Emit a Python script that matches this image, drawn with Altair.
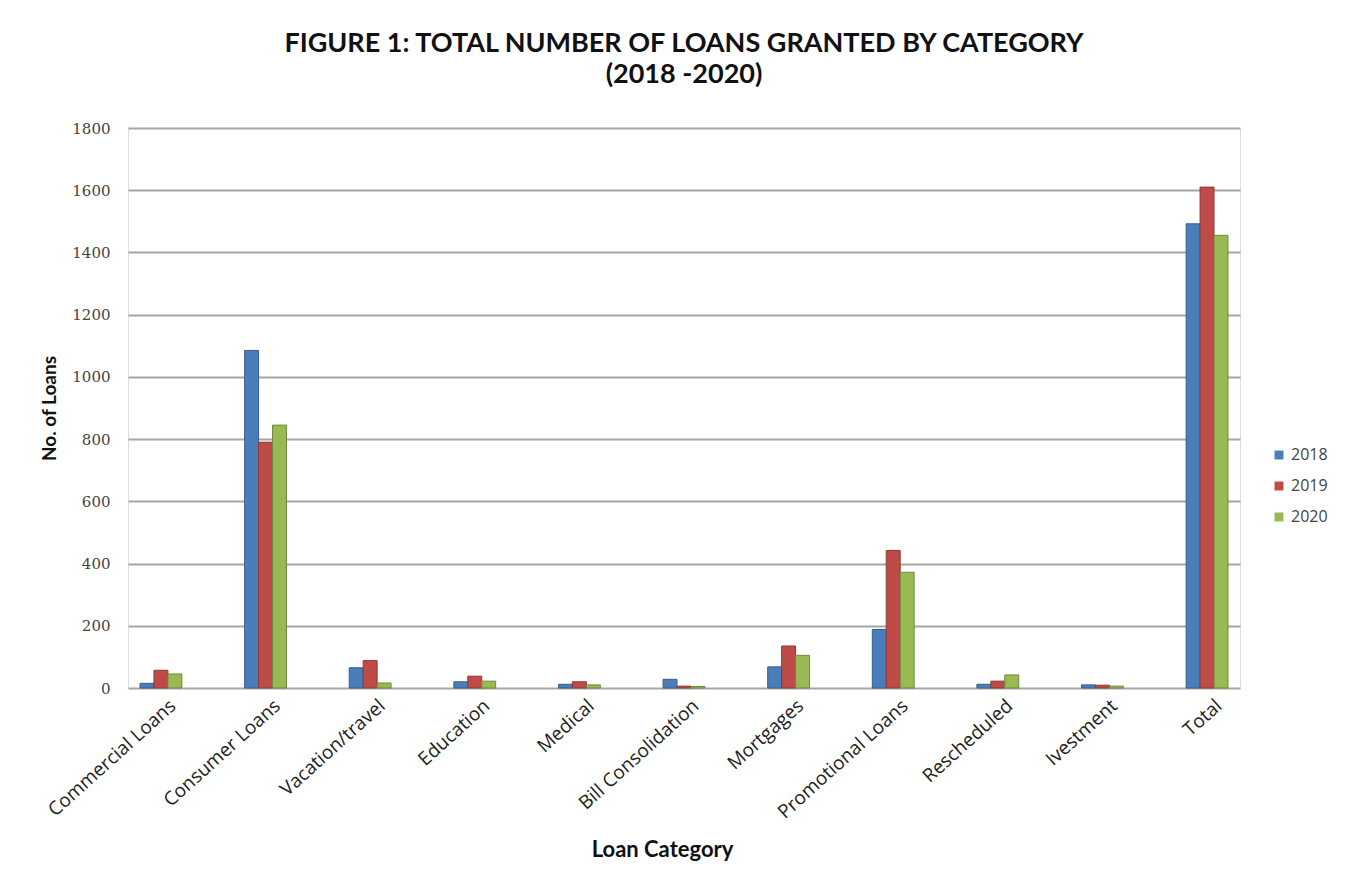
import altair as alt
import pandas as pd

categories = ["Commercial Loans", "Consumer Loans", "Vacation/travel", "Education", "Medical",
              "Bill Consolidation", "Mortgages", "Promotional Loans", "Rescheduled", "Ivestment", "Total"]
years = ["2018", "2019", "2020"]
v2018 = [15, 1085, 65, 20, 12, 28, 68, 188, 12, 10, 1492]
v2019 = [57, 790, 88, 38, 20, 6, 135, 442, 22, 9, 1610]
v2020 = [45, 845, 16, 22, 10, 5, 105, 372, 42, 6, 1455]
colors = ["#4a7ebb", "#be4b48", "#98b954"]
strokes = ["#385d8a", "#8c3836", "#71893f"]

rows = []
for y, vals in zip(years, [v2018, v2019, v2020]):
    for c, v in zip(categories, vals):
        rows.append({"Category": c, "Year": y, "Loans": v})
df = pd.DataFrame(rows)

bars = alt.Chart(df).mark_bar(strokeWidth=1).encode(
    x=alt.X("Category:N", sort=categories,
            scale=alt.Scale(paddingInner=0.6, paddingOuter=0.115),
            axis=alt.Axis(title="Loan Category", labelAngle=-42, labelAlign="right",
                          labelBaseline="top", labelFontSize=19, labelColor="#222222",
                          labelFont="Open Sans", labelPadding=8, labelOffset=6,
                          domain=False, ticks=False, titleFont="Lato", titleFontSize=22,
                          titleFontWeight="bold", titleColor="#111111", titlePadding=18,
                          titleX=534, titleAlign="center")),
    xOffset=alt.XOffset("Year:N", sort=years, scale=alt.Scale(paddingInner=0, paddingOuter=0)),
    y=alt.Y("Loans:Q", scale=alt.Scale(domain=[0, 1800]),
            axis=alt.Axis(title="No. of Loans", values=list(range(0, 1801, 200)), format="d",
                          labelFont="DejaVu Serif", labelFontSize=15, labelColor="#444444",
                          labelPadding=18, domain=False, ticks=False,
                          gridColor="#a6a6a6", gridWidth=2,
                          titleFont="Lato", titleFontSize=19, titleFontWeight="bold",
                          titleColor="#111111", titlePadding=12)),
    color=alt.Color("Year:N", sort=years, scale=alt.Scale(domain=years, range=colors),
                    legend=alt.Legend(title=None, orient="none", legendX=1143, legendY=319,
                                      symbolType="square", symbolSize=80, labelFontSize=16,
                                      labelFont="Open Sans", labelColor="#444444",
                                      rowPadding=15, symbolStrokeWidth=0)),
    stroke=alt.Stroke("Year:N", sort=years, scale=alt.Scale(domain=years, range=strokes), legend=None),
)

chart = bars.properties(
    width=1112, height=560,
    title=alt.TitleParams(["FIGURE 1: TOTAL NUMBER OF LOANS GRANTED BY CATEGORY", "(2018 -2020)"],
                          font="Lato", fontSize=27, fontWeight="bold", color="#111111",
                          lineHeight=31, anchor="middle", offset=32),
    autosize=alt.AutoSizeParams(type="none"),
    padding={"left": 120, "top": 120, "right": 97, "bottom": 180},
).configure_view(stroke=None).configure(background="white")

chart.save("out.html", embed_options={"renderer": "svg", "actions": False})
